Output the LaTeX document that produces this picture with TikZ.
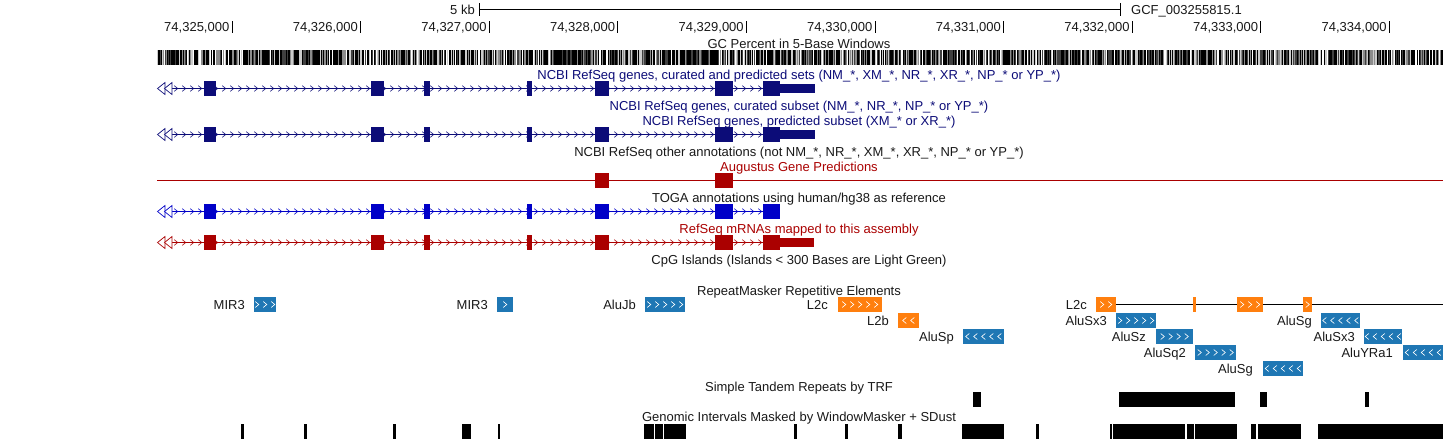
\documentclass[tikz,border=0pt]{standalone}
\usepackage{fontspec}
\setmainfont{Liberation Sans}
\definecolor{ncbi}{RGB}{12,12,120}
\definecolor{toga}{RGB}{0,0,200}
\definecolor{augred}{RGB}{170,0,0}
\definecolor{rmblue}{RGB}{31,119,180}
\definecolor{rmorange}{RGB}{255,127,14}
\definecolor{txt}{RGB}{25,25,25}
\newcommand\gmodel[2]{% #1 y centre, #2 colour
  \draw[#2, line width=0.9] (164,#1) -- (780,#1);
  \foreach \x in {176,184,...,760} {\draw[#2,line width=0.6] (\x-1.7,#1-2.8) -- (\x+1.7,#1) -- (\x-1.7,#1+2.8);}
  \foreach \a/\b in {204/216,371/384,424/430,527/532,595/609,715/733,763/780} {\fill[#2] (\a,#1-7.5) rectangle (\b,#1+7.5);}
  \draw[#2,fill=white,line width=0.7] (165,#1-6) -- (157.5,#1) -- (165,#1+6) -- cycle;
  \draw[#2,fill=white,line width=0.7] (172,#1-6) -- (164.5,#1) -- (172,#1+6) -- cycle;
}
\newcommand\rmrep[6]{% x1 x2 y colour n dir(+1/-1)
  \fill[#4] (#1,#3-7.5) rectangle (#2,#3+7.5);
  \foreach \i in {1,...,#5} {
    \pgfmathsetmacro\cx{(#1+#2)/2+(\i-(#5+1)/2)*8}
    \draw[white,line width=0.6] ({\cx-1.8*(#6)},{#3-3}) -- ({\cx+1.8*(#6)},#3) -- ({\cx-1.8*(#6)},{#3+3});
  }
}
\begin{document}
\begin{tikzpicture}[x=1pt,y=-1pt,
  every node/.style={font=\fontsize{13}{14}\selectfont, inner sep=0pt, text=txt},
  tracklbl/.style={anchor=base},
  replbl/.style={anchor=base east}]
\useasboundingbox (0,0) rectangle (1443,439);
\fill[white] (0,0) rectangle (1443,439);

% ruler
\node[anchor=base east] (kb) at (475,14) {5 kb};
\draw[line width=0.8] (479,9) -- (1120,9);
\draw[line width=0.8] (479,3) -- (479,16);
\draw[line width=0.8] (1120,3) -- (1120,16);
\node[anchor=base west] (gcf) at (1131,14) {GCF\_003255815.1};
\foreach \k in {0,...,9} {
  \pgfmathtruncatemacro\n{325+\k}
  \draw[line width=0.8] ({232+128.6*\k},21) -- ({232+128.6*\k},33);
  \node[anchor=base east] (t\k) at ({229.5+128.6*\k},31.5) {74,\n,000};
}

% GC percent
\node[tracklbl] (gc) at (799,48) {GC Percent in 5-Base Windows};
\pgfmathsetseed{7}
\foreach \i in {157,...,1442} {
  \pgfmathsetmacro\r{rnd}
  \pgfmathsetmacro\g{\r<0.45 ? 100 : (\r<0.62 ? 75 : (\r<0.78 ? 45 : (\r<0.9 ? 20 : 0)))}
  \fill[black!\g] (\i,50) rectangle (\i+1,65);
}

% NCBI RefSeq tracks
\node[tracklbl,text=ncbi] (l1) at (799,79) {NCBI RefSeq genes, curated and predicted sets (NM\_*, XM\_*, NR\_*, XR\_*, NP\_* or YP\_*)};
\gmodel{88.5}{ncbi}
\fill[ncbi] (780,84) rectangle (815,93);
\node[tracklbl,text=ncbi] (l2) at (799,110) {NCBI RefSeq genes, curated subset (NM\_*, NR\_*, NP\_* or YP\_*)};
\node[tracklbl,text=ncbi] (l3) at (799,125.5) {NCBI RefSeq genes, predicted subset (XM\_* or XR\_*)};
\gmodel{134.5}{ncbi}
\fill[ncbi] (780,130) rectangle (815,139);
\node[tracklbl] (l4) at (799,156.5) {NCBI RefSeq other annotations (not NM\_*, NR\_*, XM\_*, XR\_*, NP\_* or YP\_*)};

% Augustus
\node[tracklbl,text=augred] (l5) at (799,171.5) {Augustus Gene Predictions};
\draw[augred,line width=0.9] (157,180.5) -- (1443,180.5);
\fill[augred] (595,173) rectangle (609,188);
\fill[augred] (715,173) rectangle (733,188);

% TOGA
\node[tracklbl] (l6) at (799,202.5) {TOGA annotations using human/hg38 as reference};
\gmodel{211.5}{toga}

% RefSeq mRNAs
\node[tracklbl,text=augred] (l7) at (799,233) {RefSeq mRNAs mapped to this assembly};
\gmodel{242.5}{augred}
\fill[augred] (780,238) rectangle (814,247);

% CpG
\node[tracklbl] (l8) at (799,264) {CpG Islands (Islands < 300 Bases are Light Green)};

% RepeatMasker
\node[tracklbl] (l9) at (799,295.5) {RepeatMasker Repetitive Elements};
\draw[line width=0.9] (1116,304.5) -- (1443,304.5);
\rmrep{254}{276}{304.5}{rmblue}{3}{1}
\node[replbl] (r1) at (245,309) {MIR3};
\rmrep{497}{513}{304.5}{rmblue}{1}{1}
\node[replbl] (r2) at (488,309) {MIR3};
\rmrep{645}{685}{304.5}{rmblue}{5}{1}
\node[replbl] (r3) at (636,309) {AluJb};
\rmrep{838}{882}{304.5}{rmorange}{5}{1}
\node[replbl] (r4) at (828,309) {L2c};
\rmrep{898}{919}{320.5}{rmorange}{2}{-1}
\node[replbl] (r5) at (889,325) {L2b};
\rmrep{963}{1004}{336.5}{rmblue}{5}{-1}
\node[replbl] (r6) at (954,341) {AluSp};
\rmrep{1096}{1116}{304.5}{rmorange}{2}{1}
\fill[rmorange] (1193,297) rectangle (1195.5,312);
\rmrep{1237}{1263}{304.5}{rmorange}{3}{1}
\rmrep{1303}{1312}{304.5}{rmorange}{1}{1}
\node[replbl] (r7) at (1087,309) {L2c};
\rmrep{1116}{1156}{320.5}{rmblue}{5}{1}
\node[replbl] (r8) at (1107,325) {AluSx3};
\rmrep{1321}{1360}{320.5}{rmblue}{5}{-1}
\node[replbl] (r9) at (1312,325) {AluSg};
\rmrep{1156}{1193}{336.5}{rmblue}{4}{1}
\node[replbl] (r10) at (1146,341) {AluSz};
\rmrep{1364}{1402}{336.5}{rmblue}{5}{-1}
\node[replbl] (r11) at (1355,341) {AluSx3};
\rmrep{1195}{1236}{352.5}{rmblue}{5}{1}
\node[replbl] (r12) at (1186,357) {AluSq2};
\rmrep{1403}{1443}{352.5}{rmblue}{5}{-1}
\node[replbl] (r13) at (1393,357) {AluYRa1};
\rmrep{1263}{1303}{368.5}{rmblue}{5}{-1}
\node[replbl] (r14) at (1253,373) {AluSg};

% TRF
\node[tracklbl] (l10) at (799,391) {Simple Tandem Repeats by TRF};
\foreach \a/\b in {973/980.5,1119/1234.5,1260/1267,1364.5/1368.5} {\fill[black] (\a,392) rectangle (\b,407);}

% WindowMasker
\node[tracklbl] (l11) at (799,421.5) {Genomic Intervals Masked by WindowMasker + SDust};
\foreach \a/\b in {241/244,304/307,393/396,462/471,498/500,643.5/653.5,654.5/662.5,663.5/686,794/797,845/848,898/902,962/1004,1036/1039,1109.5/1111.5,1112.5/1185,1186.5/1194,1195/1236.5,1251/1256,1258/1301,1318/1443} {\fill[black] (\a,424) rectangle (\b,439);}
\end{tikzpicture}
\end{document}
